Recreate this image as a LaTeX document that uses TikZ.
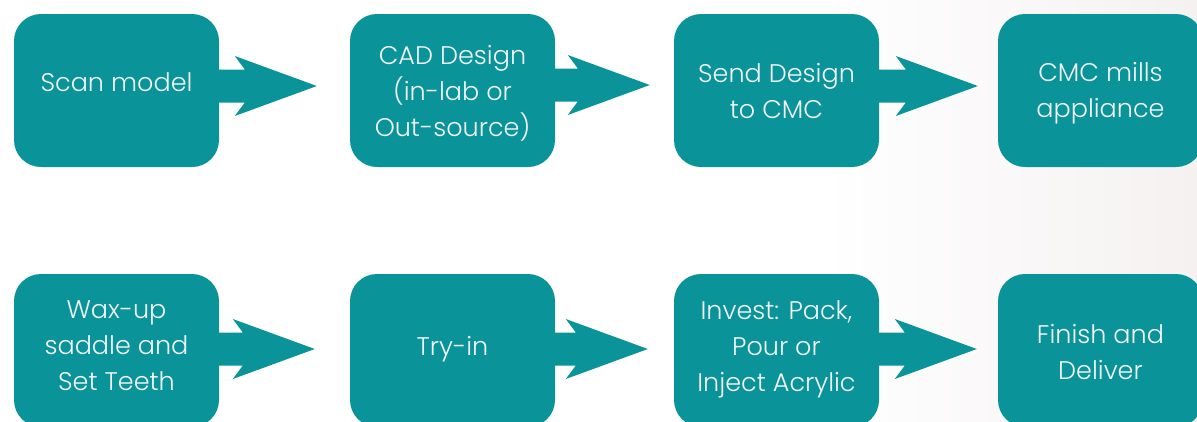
\documentclass[tikz,border=0pt]{standalone}
\usepackage{fontspec}
\setmainfont{Poppins}[UprightFont=* Light]
\usetikzlibrary{calc}
\definecolor{tealbox}{RGB}{10,148,153}
\definecolor{boxtext}{RGB}{242,245,245}
\definecolor{photobg}{RGB}{245,241,241}
\tikzset{
  stepbox/.style={fill=tealbox, rounded corners=27pt, minimum width=205pt, minimum height=153pt,
    inner sep=0pt, text=boxtext, align=center, font=\fontsize{25.5}{36}\selectfont},
  flowfill/.style={fill=tealbox}
}
% shift text vertically without changing its box size (positive = up)
\newcommand{\tshift}[2]{\raisebox{#1}[\height][\depth]{\parbox{200pt}{\centering #2}}}
% #1 source, #2 target, #3 gap tip->target west, #4 vertical offset
\newcommand{\flowarrow}[4]{%
  \fill[flowfill]
    ($(#1.east)+(-3,#4-16.5)$) --
    ($(#1.east -| #2.west)+(-#3-72,#4-16.5)$) --
    ($(#1.east -| #2.west)+(-#3-82,#4-30)$) --
    ($(#1.east -| #2.west)+(-#3,#4)$) --
    ($(#1.east -| #2.west)+(-#3-82,#4+30)$) --
    ($(#1.east -| #2.west)+(-#3-72,#4+16.5)$) --
    ($(#1.east)+(-3,#4+16.5)$) -- cycle;}
\begin{document}
\begin{tikzpicture}[x=1pt,y=-1pt]
\useasboundingbox (0,0) rectangle (1197,421);
\clip (0,0) rectangle (1197,421);
\fill[white] (0,0) rectangle (1197,421);
\shade[left color=white, right color=photobg] (820,0) rectangle (1197,421);
% row 1
\node[stepbox] (scan) at (116.5,90.5) {\tshift{8pt}{Scan model}};
\node[stepbox] (cad) at (452.5,90.5) {\tshift{-3pt}{CAD Design\\(in-lab or\\Out-source)}};
\node[stepbox] (send) at (776.5,90.5) {\tshift{-1pt}{Send Design\\to CMC}};
\node[stepbox] (mill) at (1100.5,90.5) {\tshift{-3pt}{CMC mills\\appliance}};
% row 2
\node[stepbox] (wax) at (116.5,350.5) {\tshift{5pt}{Wax-up\\saddle and\\Set Teeth}};
\node[stepbox] (try) at (452.5,350.5) {\tshift{1pt}{Try-in}};
\node[stepbox] (invest) at (776.5,350.5) {\tshift{1.5pt}{Invest: Pack,\\Pour or\\Inject Acrylic}};
\node[stepbox] (finish) at (1100.5,350.5) {\tshift{-1.5pt}{Finish and\\Deliver}};
% arrows
\flowarrow{scan}{cad}{33}{-4.5}
\flowarrow{cad}{send}{24}{-5.5}
\flowarrow{send}{mill}{20}{-4.5}
\flowarrow{wax}{try}{35}{-1.5}
\flowarrow{try}{invest}{26}{-1.5}
\flowarrow{invest}{finish}{21}{-1.5}
\end{tikzpicture}
\end{document}
